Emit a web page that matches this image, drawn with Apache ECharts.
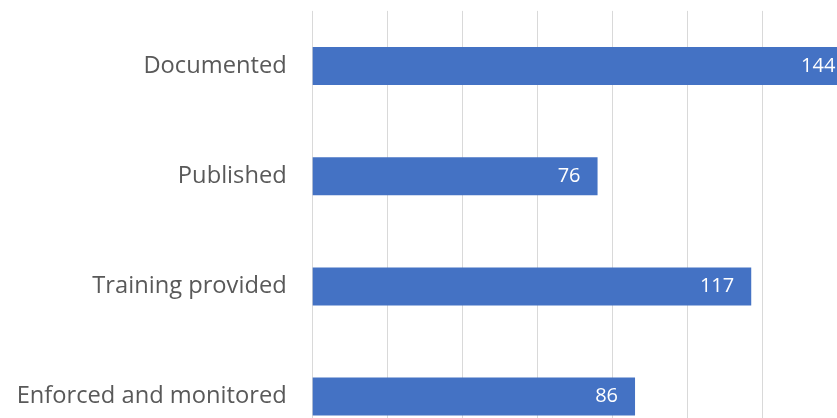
<!DOCTYPE html>
<html>
<head>
<meta charset="utf-8">
<script src="https://cdn.jsdelivr.net/npm/echarts@6/dist/echarts.min.js"></script>
<style>html,body{margin:0;padding:0;background:#fff}#c{width:837px;height:418px}</style>
</head>
<body>
<div id="c"></div>
<script>
const categories = ["Documented", "Published", "Training provided", "Enforced and monitored"];
const values = [144, 76, 117, 86];
const axisMin = 0;
const axisMax = 160;
const axisInterval = 20;

const chart = echarts.init(document.getElementById('c'), null, {renderer: 'canvas'});
chart.setOption({
  animation: false,
  backgroundColor: '#ffffff',
  grid: {left: 312.7, top: 10.9, width: 599.7, height: 440.8, containLabel: false, outerBoundsMode: 'none'},
  xAxis: {
    type: 'value', min: axisMin, max: axisMax, interval: axisInterval,
    axisLabel: {show: false}, axisLine: {show: false}, axisTick: {show: false},
    splitLine: {show: true, lineStyle: {color: '#d9d9d9', width: 1}}
  },
  yAxis: {
    type: 'category', data: categories, inverse: true,
    axisLine: {show: false}, axisTick: {show: false},
    axisLabel: {color: '#595959', fontFamily: 'Open Sans', fontSize: 23.7, margin: 26}
  },
  series: [{
    type: 'bar', data: values, barWidth: 38,
    itemStyle: {color: '#4472C4'},
    label: {show: true, position: 'insideRight', distance: 17, color: '#ffffff', fontFamily: 'Open Sans', fontSize: 20}
  }]
});
</script>
</body>
</html>
